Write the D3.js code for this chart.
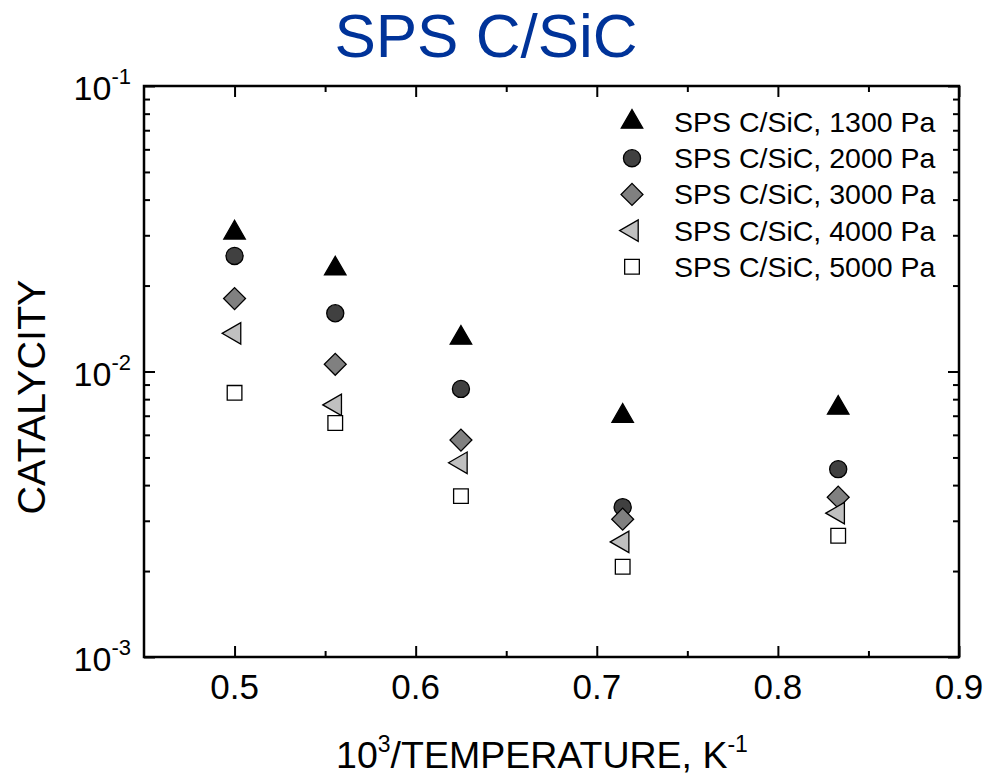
<!DOCTYPE html>
<html>
<head>
<meta charset="utf-8">
<script src="https://cdn.jsdelivr.net/npm/d3@7"></script>
<style>
  body { margin: 0; background: #fff; }
  text { font-family: "Liberation Sans", Arial, sans-serif; }
</style>
</head>
<body>
<div id="chart"></div>
<script>
// 10^3 / T  (T = 2000, 1800, 1600, 1400, 1200 K)
var invTemp = [0.5, 0.5556, 0.625, 0.7143, 0.8333];

var seriesNames = ["SPS C/SiC, 1300 Pa", "SPS C/SiC, 2000 Pa", "SPS C/SiC, 3000 Pa",
                   "SPS C/SiC, 4000 Pa", "SPS C/SiC, 5000 Pa"];

var cat1300 = [0.0306, 0.0229, 0.0131, 0.00698, 0.00745];
var cat2000 = [0.0254, 0.0160, 0.00869, 0.00335, 0.00455];
var cat3000 = [0.0180, 0.0106, 0.00575, 0.00304, 0.00363];
var cat4000 = [0.0136, 0.00764, 0.00479, 0.00253, 0.00319];
var cat5000 = [0.00842, 0.00660, 0.00366, 0.00207, 0.00266];

var xTicks = [0.5, 0.6, 0.7, 0.8, 0.9];
var yTickExp = [-3, -2, -1];

var series = [cat1300, cat2000, cat3000, cat4000, cat5000].map(function(v, i) {
    return {name: seriesNames[i], values: v};
});

var W = 988, H = 776;
var margin = {top: 86, right: 29, bottom: 119, left: 144};
var width = W - margin.left - margin.right,
    height = H - margin.top - margin.bottom;

var svg = d3.select("#chart").append("svg")
    .attr("width", W)
    .attr("height", H);

var g = svg.append("g")
    .attr("transform", "translate(" + margin.left + "," + margin.top + ")");

var x = d3.scaleLinear().domain([0.45, 0.9]).range([0, width]);
var y = d3.scaleLog().domain([1e-3, 1e-1]).range([height, 0]);

// marker styles
var fills = ["#000000", "#404040", "#808080", "#c0c0c0", "#ffffff"];
var symbolFor = [
    {type: d3.symbolTriangle, size: 200, rot: 0},
    {type: d3.symbolCircle, size: 230, rot: 0},
    {type: d3.symbolSquare, size: 240, rot: 45},
    {type: d3.symbolTriangle, size: 200, rot: -90},
    {type: d3.symbolSquare, size: 215, rot: 0}
];

// minor/major ticks on all sides, pointing inward
var yMinor = [];
[-3, -2].forEach(function(e) {
    for (var k = 2; k <= 9; k++) yMinor.push(k * Math.pow(10, e));
});
var xMinor = [0.55, 0.65, 0.75, 0.85];

function tickAxis(axisFn, scale, vals, len, transform) {
    g.append("g")
        .attr("class", "axis")
        .attr("transform", transform || null)
        .call(axisFn(scale).tickValues(vals).tickSize(len).tickFormat(""))
        .call(function(s) { s.select(".domain").remove(); });
}
tickAxis(d3.axisBottom, x, xTicks, -11, "translate(0," + height + ")");
tickAxis(d3.axisBottom, x, xMinor, -6, "translate(0," + height + ")");
tickAxis(d3.axisTop, x, xTicks, -11);
tickAxis(d3.axisTop, x, xMinor, -6);
var yMajor = yTickExp.map(function(e) { return Math.pow(10, e); });
tickAxis(d3.axisLeft, y, yMajor, -11);
tickAxis(d3.axisLeft, y, yMinor, -6);
tickAxis(d3.axisRight, y, yMajor, -11, "translate(" + width + ",0)");
tickAxis(d3.axisRight, y, yMinor, -6, "translate(" + width + ",0)");

g.selectAll(".axis line").attr("stroke", "#000").attr("stroke-width", 2);

// frame
g.append("rect")
    .attr("width", width)
    .attr("height", height)
    .attr("fill", "none")
    .attr("stroke", "#000")
    .attr("stroke-width", 2.5);

// x tick labels
g.selectAll(".xlab")
    .data(xTicks)
    .enter()
    .append("text")
    .attr("x", function(d) { return x(d); })
    .attr("y", height + 42)
    .attr("text-anchor", "middle")
    .attr("font-size", 35)
    .text(function(d) { return d.toFixed(1); });

// y tick labels 10^n
var ylab = g.selectAll(".ylab")
    .data(yTickExp)
    .enter()
    .append("text")
    .attr("x", -13)
    .attr("y", function(d) { return y(Math.pow(10, d)) + 14; })
    .attr("text-anchor", "end")
    .attr("font-size", 34);
ylab.append("tspan").text("10");
ylab.append("tspan").attr("dy", -16).attr("font-size", 22)
    .text(function(d) { return "-" + Math.abs(d); });

// points
series.forEach(function(s, i) {
    var sym = symbolFor[i];
    g.selectAll(".pt" + i)
        .data(s.values)
        .enter()
        .append("path")
        .attr("d", d3.symbol().type(sym.type).size(sym.size))
        .attr("transform", function(d, j) {
            return "translate(" + x(invTemp[j]) + "," + y(d) + ") rotate(" + sym.rot + ")";
        })
        .attr("fill", fills[i])
        .attr("stroke", "#000")
        .attr("stroke-width", 1.3);
});

// legend
var legend = g.append("g")
    .attr("transform", "translate(" + 488 + "," + 36 + ")");

legend.selectAll("path")
    .data(series)
    .enter()
    .append("path")
    .attr("d", function(d, i) { return d3.symbol().type(symbolFor[i].type).size(symbolFor[i].size)(); })
    .attr("transform", function(d, i) {
        return "translate(0," + (36.2 * i) + ") rotate(" + symbolFor[i].rot + ")";
    })
    .attr("fill", function(d, i) { return fills[i]; })
    .attr("stroke", "#000")
    .attr("stroke-width", 1.3);

legend.selectAll("text")
    .data(series)
    .enter()
    .append("text")
    .attr("x", 42)
    .attr("y", function(d, i) { return 36.2 * i + 10; })
    .attr("font-size", 28.5)
    .text(function(d) { return d.name; });

// title
svg.append("text")
    .attr("x", 486)
    .attr("y", 57)
    .attr("text-anchor", "middle")
    .attr("font-size", 62)
    .attr("fill", "#003399")
    .text("SPS C/SiC");

// y label
svg.append("text")
    .attr("transform", "translate(45," + 397 + ") rotate(-90)")
    .attr("text-anchor", "middle")
    .attr("font-size", 39.5)
    .text("CATALYCITY");

// x label
var xl = svg.append("text")
    .attr("x", 542)
    .attr("y", 768)
    .attr("text-anchor", "middle")
    .attr("font-size", 37.5);
xl.append("tspan").text("10");
xl.append("tspan").attr("dy", -16).attr("font-size", 23).text("3");
xl.append("tspan").attr("dy", 16).text("/TEMPERATURE, K");
xl.append("tspan").attr("dy", -16).attr("font-size", 23).text("-1");
</script>
</body>
</html>
